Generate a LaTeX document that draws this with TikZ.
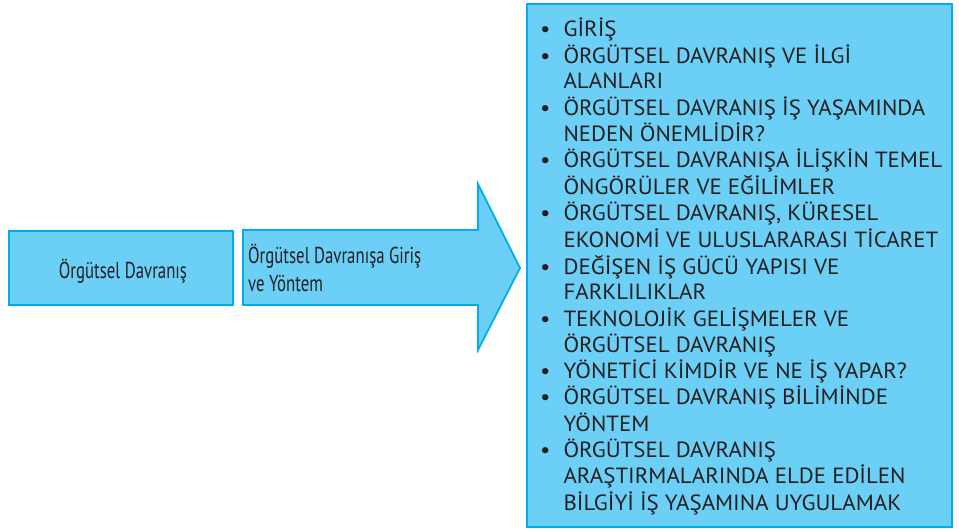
\documentclass[tikz,border=0pt]{standalone}
\usepackage{fontspec}
\setmainfont[FakeStretch=1.04]{PT Sans}
\newfontfamily\condfont[FakeStretch=0.73]{PT Sans}
\definecolor{boxfill}{HTML}{6CCFF6}
\definecolor{boxline}{HTML}{00AEEF}
\definecolor{ink}{HTML}{231F20}
\tikzset{
  panel/.style={fill=boxfill, draw=boxline, line width=2.6pt},
  arrowpanel/.style={fill=boxfill, draw=boxline, line width=1.8pt, line join=miter},
  label/.style={text=ink, inner sep=0pt, font=\condfont\fontsize{23}{28}\selectfont}
}
\begin{document}
\begin{tikzpicture}[x=1pt, y=-1pt]
  \useasboundingbox (0,0) rectangle (959,529);
  % left box
  \draw[panel] (9,231) rectangle (233,305);
  \node[label] (root) at (123,271) {Örgütsel Davranış};
  % block arrow
  \draw[arrowpanel] (243,230) -- (478,230) -- (478,184) -- (520,268)
        -- (478,350) -- (478,305) -- (243,305) -- cycle;
  \node[label, anchor=north west, align=left] (topic) at (248,244)
        {Örgütsel Davranışa Giriş\\ve Yöntem};
  % content box
  \draw[panel] (527,4) rectangle (952,527);
  \node[text=ink, inner sep=0pt, anchor=north west, font=\fontsize{22}{25.6}\selectfont] (list) at (540,18) {%
    \begin{tabular}{@{}l@{\hspace{13pt}}l@{}}
    • & GİRİŞ\\
    • & ÖRGÜTSEL DAVRANIŞ VE İLGİ\\
      & ALANLARI\\
    • & ÖRGÜTSEL DAVRANIŞ İŞ YAŞAMINDA\\
      & NEDEN ÖNEMLİDİR?\\
    • & ÖRGÜTSEL DAVRANIŞA İLİŞKİN TEMEL\\
      & ÖNGÖRÜLER VE EĞİLİMLER\\
    • & ÖRGÜTSEL DAVRANIŞ, KÜRESEL\\
      & EKONOMİ VE ULUSLARARASI TİCARET\\
    • & DEĞİŞEN İŞ GÜCÜ YAPISI VE\\
      & FARKLILIKLAR\\
    • & TEKNOLOJİK GELİŞMELER VE\\
      & ÖRGÜTSEL DAVRANIŞ\\
    • & YÖNETİCİ KİMDİR VE NE İŞ YAPAR?\\
    • & ÖRGÜTSEL DAVRANIŞ BİLİMİNDE\\
      & YÖNTEM\\
    • & ÖRGÜTSEL DAVRANIŞ\\
      & ARAŞTIRMALARINDA ELDE EDİLEN\\
      & BİLGİYİ İŞ YAŞAMINA UYGULAMAK
    \end{tabular}};
\end{tikzpicture}
\end{document}
